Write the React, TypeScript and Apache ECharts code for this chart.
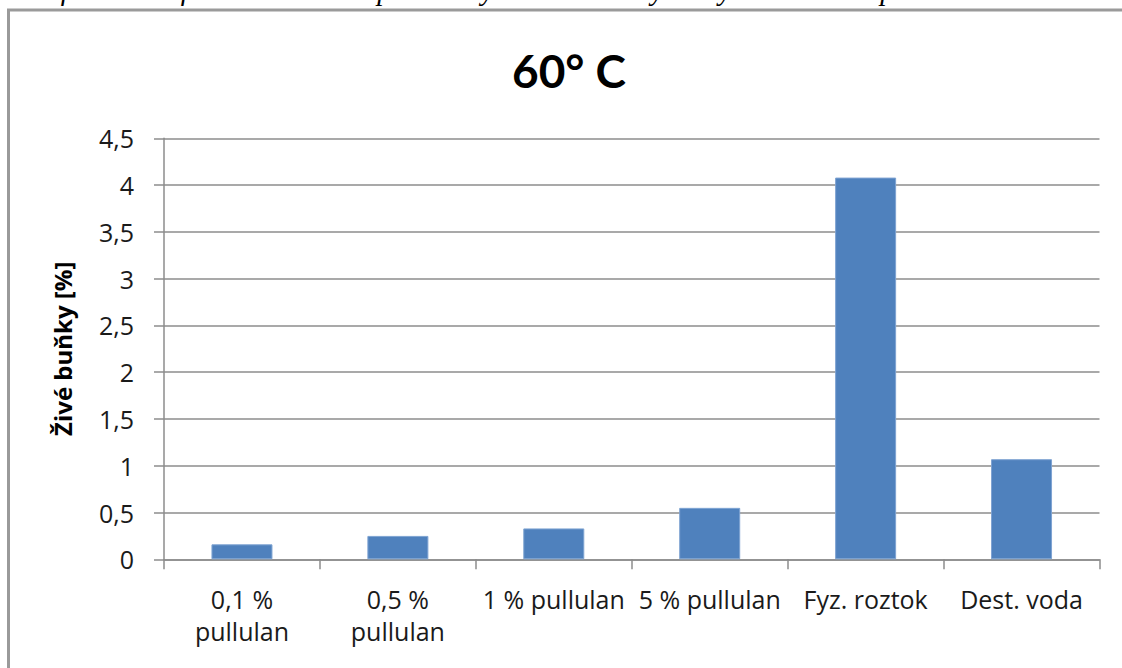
import React, { useEffect, useRef } from "react";
import * as echarts from "echarts";

const categories = ["0,1 %\npullulan", "0,5 %\npullulan", "1 % pullulan", "5 % pullulan", "Fyz. roztok", "Dest. voda"];
const values = [0.16, 0.25, 0.33, 0.55, 4.08, 1.07];
const yTicks = { min: 0, max: 4.5, interval: 0.5 };
const titleText = "60° C";
const yAxisName = "Živé buňky [%]";
const captionText = "Graf 14 – Grafické znázornění počtu živých buněk ve vybraných roztocích při 60° C";

export default function App() {
  const ref = useRef<HTMLDivElement>(null);
  useEffect(() => {
    if (!ref.current) return;
    const chart = echarts.init(ref.current, undefined, { renderer: "svg" });
    chart.setOption({
      animation: false,
      backgroundColor: "#ffffff",
      grid: { left: 164, right: 22.5, top: 138.3, bottom: 108.7, containLabel: false },
      xAxis: {
        type: "category",
        data: categories,
        axisLine: { lineStyle: { color: "#8c8c8c", width: 1.5 } },
        axisTick: { show: true, length: 10, lineStyle: { color: "#8c8c8c", width: 1.5 } },
        axisLabel: {
          interval: 0,
          color: "#1a1a1a",
          fontFamily: "Open Sans",
          fontSize: 25,
          lineHeight: 32,
          margin: 24,
        },
      },
      yAxis: {
        type: "value",
        min: yTicks.min,
        max: yTicks.max,
        interval: yTicks.interval,
        name: yAxisName,
        nameLocation: "middle",
        nameRotate: 90,
        nameGap: 90,
        nameTextStyle: { fontFamily: "Open Sans", fontWeight: "bold", fontSize: 24, color: "#000" },
        axisLine: { show: true, lineStyle: { color: "#8c8c8c", width: 1.5 } },
        axisTick: { show: true, length: 10, lineStyle: { color: "#8c8c8c", width: 1.5 } },
        splitLine: { lineStyle: { color: "#8c8c8c", width: 1.5 } },
        axisLabel: {
          color: "#1a1a1a",
          fontFamily: "Open Sans",
          fontSize: 25,
          margin: 30,
          formatter: (v: number) => String(v).replace(".", ","),
        },
      },
      series: [
        {
          type: "bar",
          data: values,
          barWidth: 61,
          itemStyle: { color: "#4F81BD", borderColor: "#7ea3d2", borderWidth: 1 },
        },
      ],
      graphic: [
        {
          type: "rect",
          shape: { x: 8.5, y: 10, width: 1200, height: 800 },
          style: { fill: "none", stroke: "#9a9a9a", lineWidth: 3 },
          z: 100,
        },
        {
          type: "text",
          x: 14,
          y: 4,
          style: {
            text: captionText,
            fontFamily: "Liberation Serif",
            fontStyle: "italic",
            fontSize: 29,
            fill: "#000",
            textAlign: "left",
            textVerticalAlign: "bottom",
          },
          z: 100,
        },
        {
          type: "text",
          x: 569,
          y: 70,
          style: {
            text: titleText,
            fontFamily: "Lato",
            fontWeight: "bold",
            fontSize: 46,
            fill: "#000",
            textAlign: "center",
            textVerticalAlign: "middle",
          },
          z: 100,
        },
      ],
    });
    return () => chart.dispose();
  }, []);
  return (
    <div
      ref={ref}
      style={{ position: "fixed", left: 0, top: 0, width: 1122, height: 668 }}
    />
  );
}
